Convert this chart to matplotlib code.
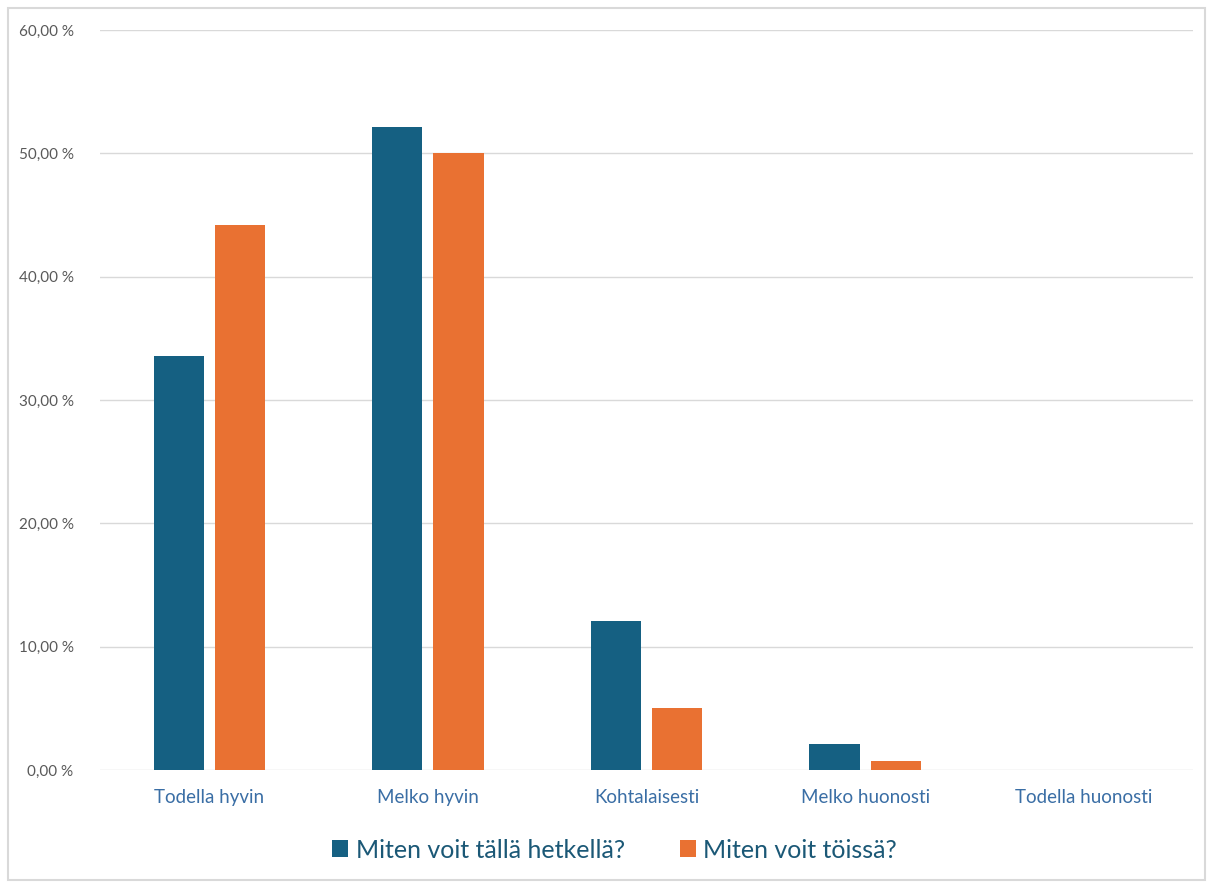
import matplotlib
matplotlib.use("Agg")
import matplotlib.pyplot as plt
import numpy as np
from matplotlib.patches import Rectangle
from matplotlib.ticker import FuncFormatter

categories = ["Todella hyvin", "Melko hyvin", "Kohtalaisesti", "Melko huonosti", "Todella huonosti"]
series_names = ["Miten voit tällä hetkellä?", "Miten voit töissä?"]
nyt = [33.6, 52.1, 12.1, 2.1, 0.0]
toissa = [44.2, 50.0, 5.0, 0.7, 0.0]
colors = ["#156082", "#E97132"]

plt.rcParams['font.family'] = ['Lato', 'DejaVu Sans']

fig = plt.figure(figsize=(12.12, 8.85), dpi=100)
ax = fig.add_axes([100/1212, 1-770/885, (1193-100)/1212, (770-30)/885])

x = np.arange(len(categories))
w = 0.229
off = 0.14
ax.bar(x - off, nyt, width=w, color=colors[0], label=series_names[0], zorder=3)
ax.bar(x + off, toissa, width=w, color=colors[1], label=series_names[1], zorder=3)

ax.set_xlim(-0.5, len(categories) - 0.5)
ax.set_ylim(0, 60)
ax.set_yticks(np.arange(0, 61, 10))
ax.yaxis.set_major_formatter(FuncFormatter(lambda v, p: f"{v:.2f}".replace(".", ",") + " %"))
ax.set_xticks(x)
ax.set_xticklabels(categories)
ax.grid(axis='y', color='#d9d9d9', linewidth=1, zorder=0)
for s in ax.spines.values():
    s.set_visible(False)
ax.tick_params(axis='both', length=0)
ax.tick_params(axis='y', pad=19, labelsize=11, labelcolor='#595959')
ax.tick_params(axis='x', pad=14, labelsize=13.5, labelcolor='#3a6ea5')

leg = fig.legend(loc='center', bbox_to_anchor=(0.507, 1-850/885), ncol=2, frameon=False,
                 fontsize=18, handlelength=0.65, handleheight=0.65, handletextpad=0.3,
                 columnspacing=2.2)
for t in leg.get_texts():
    t.set_color('#1b5876')

fig.patches.append(Rectangle((8/1212, 5/885), (1205-8)/1212, (877-5)/885, transform=fig.transFigure,
                             fill=False, edgecolor='#d9d9d9', linewidth=1.5))

fig.savefig("out.png", dpi=100, facecolor='white')
